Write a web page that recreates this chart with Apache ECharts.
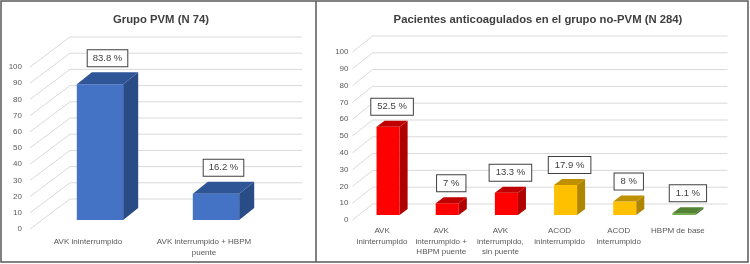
<!DOCTYPE html>
<html>
<head>
<meta charset="utf-8">
<script src="https://cdn.jsdelivr.net/npm/echarts@6/dist/echarts.min.js"></script>
<style>
  html, body { margin: 0; padding: 0; background: #fff; }
  #chart { width: 750px; height: 264px; }
</style>
</head>
<body>
<div id="chart"></div>
<script>
// data
var pvmCategories = ['AVK ininterrumpido', 'AVK interrumpido + HBPM\npuente'];
var pvmValues = [83.8, 16.2];
var noPvmCategories = ['AVK\nininterrumpido', 'AVK\ninterrumpido +\nHBPM puente', 'AVK\ninterrumpido,\nsin puente', 'ACOD\nininterrumpido', 'ACOD\ninterrumpido', 'HBPM de base'];
var noPvmValues = [52.5, 7, 13.3, 17.9, 8, 1.1];
var yTicks = [0, 10, 20, 30, 40, 50, 60, 70, 80, 90, 100];

// face colours: front, top, side
var blue = ['#4472C4', '#2F5597', '#2A4C86'];
var red = ['#FF0000', '#C00000', '#B00000'];
var gold = ['#FFC000', '#BF9000', '#B08500'];
var green = ['#70AD47', '#548235', '#4A7530'];
var noPvmFaces = [red, red, red, gold, gold, green];

var textColor = '#595959';

function wallSeries(gridIdx, depth) {
	return {
		type: 'custom',
		xAxisIndex: gridIdx,
		yAxisIndex: gridIdx,
		z: 1,
		silent: true,
		data: yTicks.map(function (v) { return [0, v]; }),
		renderItem: function (params, api) {
			var cs = params.coordSys;
			var y = api.coord([0, api.value(1)])[1];
			var left = cs.x, right = cs.x + cs.width;
			var st = { stroke: '#D9D9D9', lineWidth: 1 };
			return {
				type: 'group',
				children: [
					{ type: 'line', shape: { x1: left, y1: y, x2: left + depth[0], y2: y + depth[1] }, style: st },
					{ type: 'line', shape: { x1: left + depth[0], y1: y + depth[1], x2: right + depth[0], y2: y + depth[1] }, style: st }
				]
			};
		}
	};
}

function barSeries(gridIdx, values, faces, cfg) {
	return {
		type: 'custom',
		xAxisIndex: gridIdx,
		yAxisIndex: gridIdx,
		z: 5,
		data: values.map(function (v, i) { return [i, v]; }),
		renderItem: function (params, api) {
			var i = api.value(0), v = api.value(1);
			var base = api.coord([i, 0]);
			var top = api.coord([i, v]);
			var bw = api.size([1, 0])[0] * cfg.frac;
			var f = faces[params.dataIndex];
			var dx = cfg.depth[0], dy = cfg.depth[1];
			var x0 = base[0] - bw / 2 + cfg.off[0], x1 = x0 + bw;
			var yb = base[1] + cfg.off[1], yt = top[1] + cfg.off[1];
			return {
				type: 'group',
				children: [
					{ type: 'polygon', shape: { points: [[x0, yt], [x1, yt], [x1, yb], [x0, yb]] }, style: { fill: f[0] } },
					{ type: 'polygon', shape: { points: [[x0, yt], [x1, yt], [x1 + dx, yt + dy], [x0 + dx, yt + dy]] }, style: { fill: f[1] } },
					{ type: 'polygon', shape: { points: [[x1, yt], [x1 + dx, yt + dy], [x1 + dx, yb + dy], [x1, yb]] }, style: { fill: f[2] } },
					{
						type: 'text',
						x: (x0 + x1) / 2 + dx / 2,
						y: yt + dy - cfg.gap,
						style: {
							text: v + ' %',
							fontFamily: 'Liberation Sans',
							fontSize: cfg.fontSize,
							fill: '#404040',
							align: 'center',
							verticalAlign: 'bottom',
							backgroundColor: '#fff',
							borderColor: '#404040',
							borderWidth: 1,
							padding: cfg.pad
						}
					}
				]
			};
		}
	};
}

var chart = echarts.init(document.getElementById('chart'));
chart.setOption({
	animation: false,
	title: [
		{ text: 'Grupo PVM (N 74)', left: 156, top: 9, textAlign: 'center',
			textStyle: { fontFamily: 'Liberation Sans', fontSize: 11.3, fontWeight: 'bold', color: '#404040' } },
		{ text: 'Pacientes anticoagulados en el grupo no-PVM (N 284)', left: 533, top: 9, textAlign: 'center',
			textStyle: { fontFamily: 'Liberation Sans', fontSize: 11.3, fontWeight: 'bold', color: '#404040' } }
	],
	grid: [
		{ left: 30, top: 67, width: 232, height: 162 },
		{ left: 352.5, top: 52, width: 355, height: 168 }
	],
	xAxis: [
		{ type: 'category', gridIndex: 0, data: pvmCategories,
			axisLine: { show: false }, axisTick: { show: false },
			axisLabel: { color: textColor, fontSize: 8, fontFamily: 'Liberation Sans', margin: 7, lineHeight: 11, interval: 0 } },
		{ type: 'category', gridIndex: 1, data: noPvmCategories,
			axisLine: { show: false }, axisTick: { show: false },
			axisLabel: { color: textColor, fontSize: 8, fontFamily: 'Liberation Sans', margin: 6, lineHeight: 10.5, interval: 0 } }
	],
	yAxis: [
		{ type: 'value', gridIndex: 0, min: 0, max: 100, interval: 10,
			splitLine: { show: false }, axisLine: { show: false }, axisTick: { show: false },
			axisLabel: { color: textColor, fontSize: 8, fontFamily: 'Liberation Sans', margin: 8 } },
		{ type: 'value', gridIndex: 1, min: 0, max: 100, interval: 10,
			splitLine: { show: false }, axisLine: { show: false }, axisTick: { show: false },
			axisLabel: { color: textColor, fontSize: 8, fontFamily: 'Liberation Sans', margin: 4 } }
	],
	graphic: [
		{ type: 'rect', shape: { x: 1, y: 1, width: 747, height: 261 }, style: { fill: 'none', stroke: '#595959', lineWidth: 1.5 } },
		{ type: 'line', shape: { x1: 316, y1: 1, x2: 316, y2: 262 }, style: { stroke: '#595959', lineWidth: 1.5 } }
	],
	series: [
		wallSeries(0, [40, -30]),
		barSeries(0, pvmValues, pvmValues.map(function () { return blue; }),
			{ frac: 0.4, off: [12, -9], depth: [15, -12], gap: 6, fontSize: 9.5, pad: [3, 5] }),
		wallSeries(1, [20, -16]),
		barSeries(1, noPvmValues, noPvmFaces,
			{ frac: 0.39, off: [6, -5], depth: [8, -6], gap: 6, fontSize: 9.5, pad: [3, 6] })
	]
});
</script>
</body>
</html>
